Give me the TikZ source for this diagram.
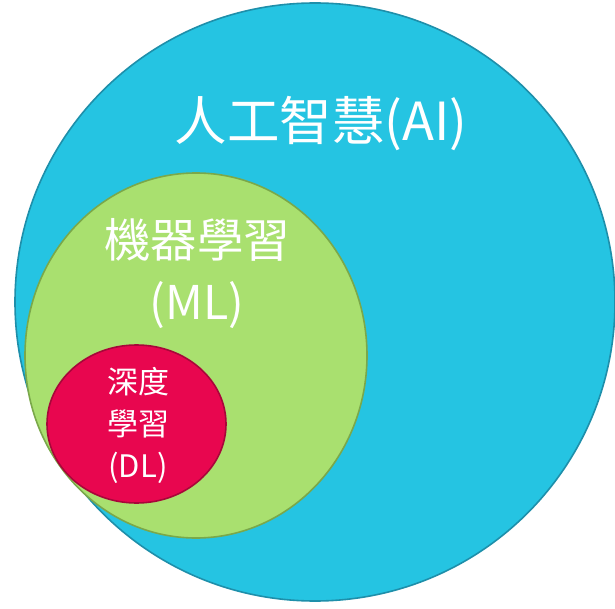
\documentclass[tikz,border=0pt]{standalone}
\usepackage{fontspec}
\setmainfont{Noto Sans CJK TC}
\usetikzlibrary{shapes.geometric}
\definecolor{aifill}{RGB}{37,196,226}
\definecolor{aiedge}{RGB}{30,143,170}
\definecolor{mlfill}{RGB}{169,224,111}
\definecolor{mledge}{RGB}{122,168,74}
\definecolor{dlfill}{RGB}{232,6,79}
\definecolor{dledge}{RGB}{168,6,58}
\tikzset{
  blob/.style={ellipse, inner sep=0pt, line width=1.6pt},
  lbl/.style={text=white, align=center, inner sep=0pt},
}
\begin{document}
\begin{tikzpicture}[x=1pt,y=-1pt]
\useasboundingbox (0,0) rectangle (615,609);
\clip (0,0) rectangle (615,609);
\node[blob, draw=aiedge, fill=aifill, minimum width=600pt, minimum height=598pt] (ai) at (315,302) {};
\node[blob, draw=mledge, fill=mlfill, minimum width=342pt, minimum height=365pt] (ml) at (196,355.5) {};
\node[blob, draw=dledge, fill=dlfill, minimum width=179pt, minimum height=158pt] (dl) at (136.5,424) {};
\node[lbl, font=\fontsize{52.5}{62}\selectfont] (ailbl) at (321,124) {人工智慧(AI)};
\node[lbl, font=\fontsize{46.5}{62}\selectfont] (mllbl) at (197,274) {機器學習\\(ML)};
\node[lbl, font=\fontsize{31}{42}\selectfont] (dllbl) at (138,425) {深度\\學習\\(DL)};
\end{tikzpicture}
\end{document}
